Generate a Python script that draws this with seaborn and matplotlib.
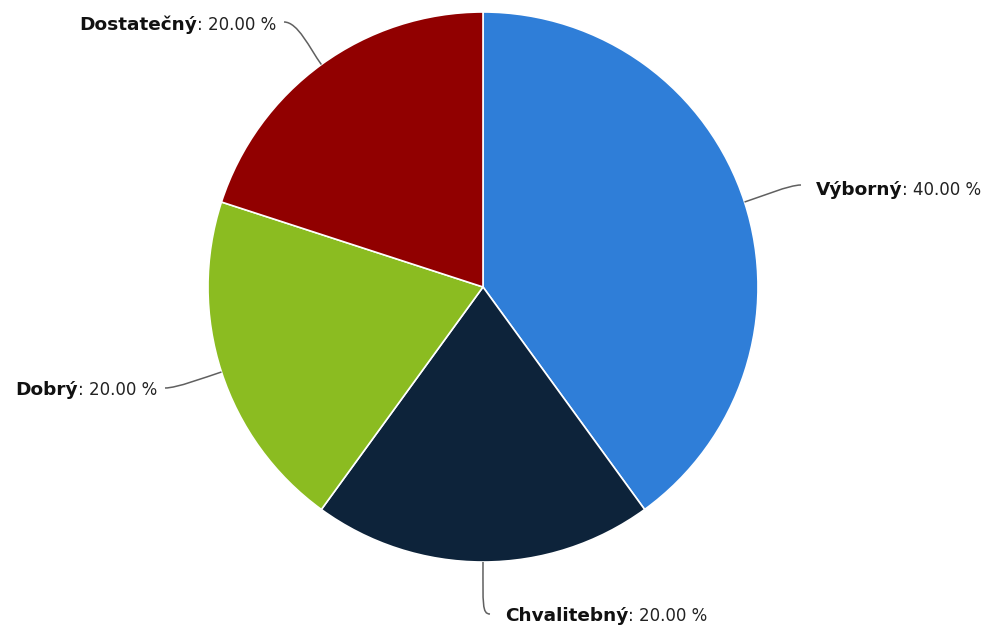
import numpy as np
import matplotlib
matplotlib.use("Agg")
import matplotlib.pyplot as plt
from matplotlib.path import Path
from matplotlib.patches import PathPatch
import seaborn as sns

# Grade distribution
grades = ["Výborný", "Chvalitebný", "Dobrý", "Dostatečný"]
shares = [40.0, 20.0, 20.0, 20.0]
slice_colors = ["#2f7ed8", "#0d233a", "#8bbc21", "#910000"]

sns.set_theme(style="white")
plt.rcParams["font.family"] = ["DejaVu Sans"]

W, H = 987, 628
fig = plt.figure(figsize=(W / 100, H / 100), dpi=100)
ax = fig.add_axes([0, 0, 1, 1])

cx, cy, radius = 483, H - 287, 275
palette = sns.color_palette(slice_colors)

wedges, _ = ax.pie(
    shares,
    colors=palette,
    startangle=90,
    counterclock=False,
    center=(cx, cy),
    radius=radius,
    frame=True,
    wedgeprops=dict(edgecolor="white", linewidth=1.2),
)
ax.set_xlim(0, W)
ax.set_ylim(0, H)
ax.set_aspect("equal")
ax.axis("off")

renderer = fig.canvas.get_renderer()

# connector end (px from top), text edge x, text baseline (px from top), side,
# radial reach of the connector, horizontal reach at the label end
label_layout = [
    ((801, 185), 816, 195, "left", 18, 12),
    ((490, 614), 505, 621, "left", 42, 8),
    ((165, 388), 157, 395, "right", 18, 12),
    ((284, 22), 276, 30, "right", 20, 14),
]

fs_name, fs_val = 13.3, 12.0
for w, name, val, (lend, tx, tb, side, reach, hreach) in zip(wedges, grades, shares, label_layout):
    mid = np.deg2rad((w.theta1 + w.theta2) / 2)
    u = np.array([np.cos(mid), np.sin(mid)])
    edge = np.array([cx, cy]) + radius * u
    L = np.array([lend[0], H - lend[1]])
    hdir = np.array([-1.0, 0.0]) if side == "left" else np.array([1.0, 0.0])
    verts = [edge, edge + reach * u, L + hreach * hdir, L]
    codes = [Path.MOVETO, Path.CURVE4, Path.CURVE4, Path.CURVE4]
    ax.add_patch(PathPatch(Path(verts, codes), fc="none", ec="#606060", lw=1.1))

    value_txt = f": {val:.2f} %"
    yb = H - tb
    if side == "left":
        t = ax.text(tx, yb, name, fontsize=fs_name, fontweight="bold",
                    color="#111111", ha="left", va="baseline")
        wpx = t.get_window_extent(renderer).width
        ax.text(tx + wpx, yb, value_txt, fontsize=fs_val,
                color="#222222", ha="left", va="baseline")
    else:
        t = ax.text(tx, yb, value_txt, fontsize=fs_val,
                    color="#222222", ha="right", va="baseline")
        wpx = t.get_window_extent(renderer).width
        ax.text(tx - wpx, yb, name, fontsize=fs_name, fontweight="bold",
                color="#111111", ha="right", va="baseline")

fig.savefig("out.png", dpi=100, facecolor="white")
